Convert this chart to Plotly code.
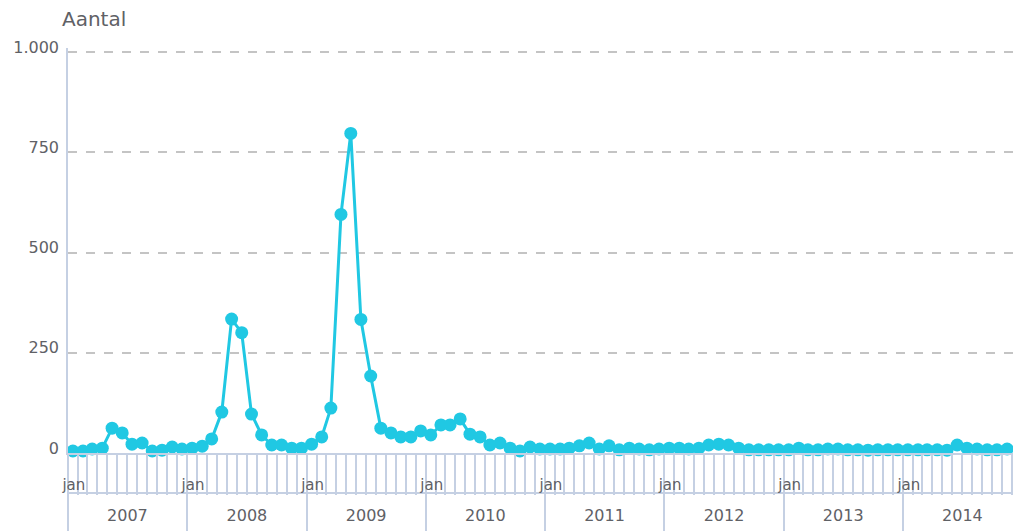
import plotly.graph_objects as go

# ---- data ----
years = [2007, 2008, 2009, 2010, 2011, 2012, 2013, 2014]
month_names = ["jan"]
y_ticks = [0, 250, 500, 750, 1000]
y_tick_labels = ["0", "250", "500", "750", "1.000"]

v2007 = [5, 5, 10, 12, 62, 50, 22, 25, 5, 7, 15, 10]
v2008 = [12, 17, 35, 102, 334, 300, 97, 45, 20, 20, 12, 12]
v2009 = [22, 40, 112, 595, 797, 333, 192, 62, 50, 40, 40, 55]
v2010 = [45, 70, 70, 85, 47, 40, 20, 25, 12, 5, 15, 10]
v2011 = [10, 10, 12, 18, 25, 10, 18, 8, 12, 10, 8, 10]
v2012 = [12, 12, 10, 12, 20, 22, 20, 12, 8, 8, 8, 8]
v2013 = [8, 12, 8, 8, 10, 10, 8, 8, 7, 8, 8, 8]
v2014 = [8, 8, 8, 8, 7, 20, 12, 10, 8, 8, 10, 10]

values = v2007 + v2008 + v2009 + v2010 + v2011 + v2012 + v2013 + v2014
dates = [f"{y}-{m:02d}-16" for y in years for m in range(1, 13)]

# ---- style ----
LINE = "#20c8e3"
AXIS = "#c5d0e3"
GRID = "#c4c4c4"
TXT = "#5f6166"
FONT = "DejaVu Sans"
W, H = 1013, 531
MT, MB = 48, 0
plot_h = H - MT - MB
y_bottom = (H - 453) / plot_h
band_pos = (H - 493) / plot_h
x_range = ["2007-01-01", "2014-12-04"]

fig = go.Figure()
fig.add_trace(go.Scatter(
    x=dates, y=values, mode="lines+markers",
    line=dict(color=LINE, width=3),
    marker=dict(color=LINE, size=13),
    cliponaxis=False, hoverinfo="skip", showlegend=False,
))

common = dict(type="date", range=x_range, showgrid=False, zeroline=False,
              automargin=False)

fig.update_layout(
    width=W, height=H,
    margin=dict(l=68, r=0, t=MT, b=MB, pad=0, autoexpand=False),
    paper_bgcolor="white", plot_bgcolor="white",
    font=dict(family=FONT, color=TXT),
    title=dict(text="Aantal", font=dict(size=20, color=TXT, family=FONT),
               xref="container", x=62 / W, xanchor="left",
               yref="container", y=1 - 19 / H, yanchor="middle",
               automargin=False),
    xaxis=dict(**common, anchor="y", tick0="2007-01-01", dtick="M1",
               ticks="outside", ticklen=40, tickwidth=1.6, tickcolor=AXIS,
               showticklabels=False, showline=True, linecolor=AXIS, linewidth=1.5),
    xaxis2=dict(**common, overlaying="x", anchor="y",
                tickvals=[f"{y}-01-01" for y in years],
                ticks="outside", ticklen=78, tickwidth=1.6, tickcolor=AXIS,
                showticklabels=False, showline=False),
    xaxis3=dict(**common, overlaying="x", anchor="y",
                tickvals=[f"{y}-01-19" for y in years],
                ticktext=[month_names[0]] * len(years),
                ticks="", ticklabelstandoff=21, showline=False,
                tickfont=dict(size=15, color=TXT, family=FONT)),
    xaxis4=dict(**common, overlaying="x", anchor="free", position=band_pos,
                tickvals=[f"{y}-07-02" for y in years],
                ticktext=[str(y) for y in years],
                ticks="", ticklabelstandoff=8, showline=True, linecolor=AXIS,
                linewidth=1.5,
                tickfont=dict(size=16, color=TXT, family=FONT)),
    yaxis=dict(domain=[y_bottom, 1], range=[0, 1010], automargin=False,
               tickvals=y_ticks, ticktext=y_tick_labels,
               showgrid=True, gridcolor=GRID, griddash="dash", gridwidth=1.5,
               zeroline=False, showline=True, linecolor=AXIS, linewidth=1.5,
               ticks="", ticklabelstandoff=4, ticklabelshift=-5,
               tickfont=dict(size=16, color=TXT, family=FONT)),
)

# invisible traces to activate the overlay axes
for ax in ["x2", "x3", "x4"]:
    fig.add_trace(go.Scatter(x=[dates[0]], y=[None], xaxis=ax, yaxis="y",
                             showlegend=False, hoverinfo="skip"))

fig.write_html("out.html", config={"displayModeBar": False},
               post_script="document.body.style.margin='0px';document.body.style.overflow='hidden';")
